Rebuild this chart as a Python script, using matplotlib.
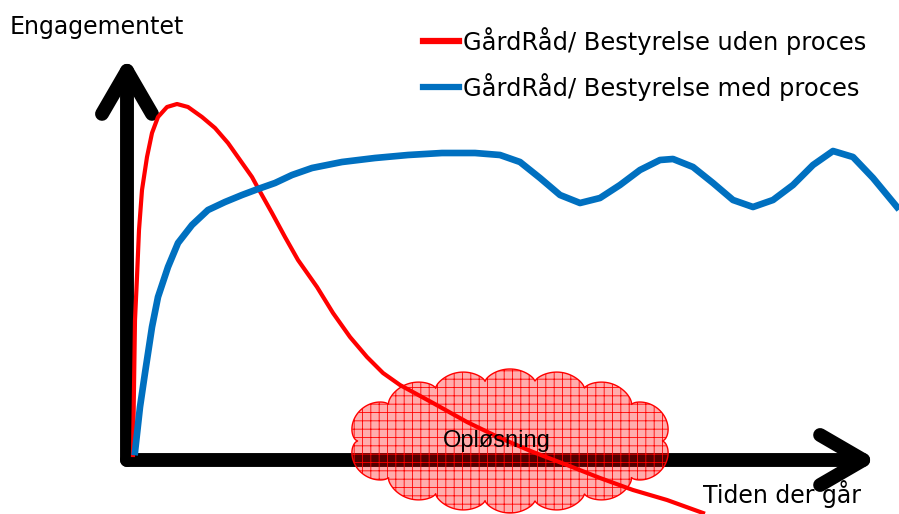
import numpy as np
import matplotlib.pyplot as plt
from matplotlib.patches import Polygon

# curve values (time, engagement)
red_t = [6, 8, 10, 12, 15, 20, 25, 31, 40, 50, 61, 75, 88, 101, 113, 125, 131, 145,
         158, 171, 190, 206, 223, 240, 256, 273, 306, 340, 373, 406, 440, 473, 506, 540, 576]
red_e = [5, 140, 183, 230, 270, 303, 327, 343, 353, 356, 353, 343, 332, 317, 300, 283, 272, 247,
         223, 200, 173, 147, 123, 103, 87, 75, 57, 38, 22, 8, -5, -18, -30, -40, -53]

blue_t = [8, 13, 18, 25, 31, 41, 51, 65, 81, 98, 115, 131, 148, 165, 185, 215, 248, 281,
          315, 348, 373, 393, 413, 433, 453, 473, 493, 513, 533, 546, 566, 586, 606, 626,
          646, 666, 686, 706, 726, 746, 770]
blue_e = [8, 53, 87, 133, 163, 193, 217, 235, 250, 258, 265, 271, 277, 285, 292, 298, 302, 305,
          307, 307, 305, 298, 282, 265, 257, 262, 275, 290, 300, 301, 293, 277, 260, 253,
          260, 275, 295, 309, 303, 282, 253]

labels = ['GårdRåd/ Bestyrelse uden proces', 'GårdRåd/ Bestyrelse med proces']
colors = ['#ff0000', '#0070c0']

fig = plt.figure(figsize=(8.99, 5.14), dpi=100)
ax = fig.add_axes([0, 0, 1, 1])
ax.set_xlim(-127, 772)
ax.set_ylim(-54, 460)
ax.axis('off')

# axes arrows
arrow = dict(arrowstyle='->,head_length=3.1,head_width=1.8', lw=10, color='black',
             capstyle='round', joinstyle='round', mutation_scale=10, shrinkA=0, shrinkB=0)
ax.annotate('', xy=(0, 403), xytext=(0, 0), arrowprops=arrow, zorder=1)
ax.annotate('', xy=(750, 0), xytext=(0, 0), arrowprops=arrow, zorder=1)

# cloud: ellipse with lobes spaced evenly along its outline
t = np.linspace(0, 2 * np.pi, 2000)
cx, cy, a, b, lobe = 383, 19, 152, 60, 12
ex, ey = a * np.cos(t), b * np.sin(t)
s = np.concatenate([[0], np.cumsum(np.hypot(np.diff(ex), np.diff(ey)))])
s = s / s[-1]
bump = lobe * np.abs(np.sin(14 * np.pi * s)) ** 0.6
nx, ny = b * np.cos(t), a * np.sin(t)
nn = np.hypot(nx, ny)
xy = np.column_stack([cx + ex + bump * nx / nn, cy + ey + bump * ny / nn])
plt.rcParams['hatch.linewidth'] = 0.6
cloud = Polygon(xy, closed=True, facecolor=(1, 0, 0, 0.32), edgecolor='#ff0000',
                hatch='++', lw=1, zorder=2)
ax.add_patch(cloud)

ax.plot(red_t, red_e, color=colors[0], lw=3, label=labels[0], zorder=3)
ax.plot(blue_t, blue_e, color=colors[1], lw=4.8, label=labels[1], zorder=3)

ax.text(-117, 426, 'Engagementet', fontsize=17, ha='left', va='baseline')
ax.text(370, 19, 'Opløsning', fontsize=17, family='Liberation Sans', ha='center', va='center', zorder=4)
ax.text(655, -43, 'Tiden der går', fontsize=17, ha='center', va='baseline')

leg = fig.legend(loc='upper left', bbox_to_anchor=(423 / 899, 1 - 27 / 514), frameon=False,
                 fontsize=17.4, handlelength=1.5, handletextpad=0.15, labelspacing=0.75,
                 borderpad=0, borderaxespad=0)
for line in leg.get_lines():
    line.set_linewidth(4.5)

plt.savefig('out.png', dpi=100)
